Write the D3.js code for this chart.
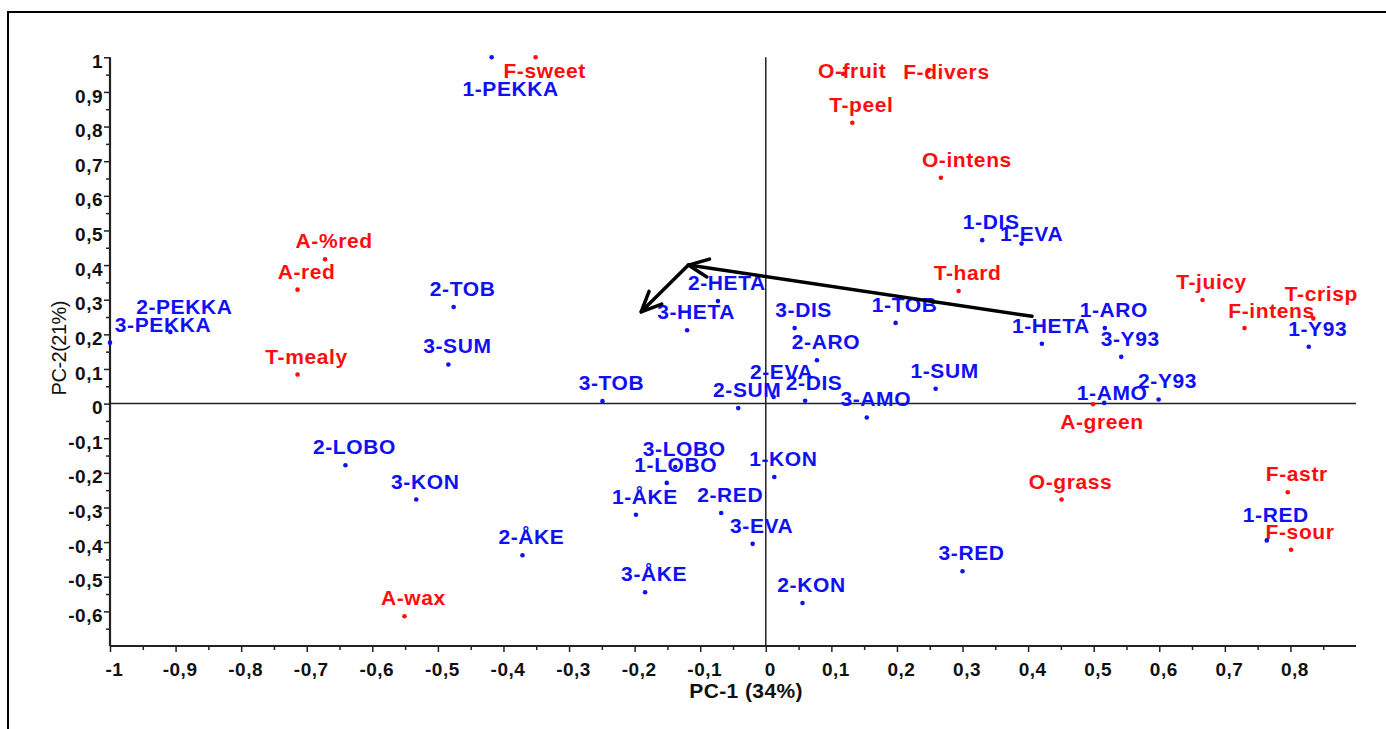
<!DOCTYPE html>
<html>
<head>
<meta charset="utf-8">
<script src="https://d3js.org/d3.v7.min.js"></script>
<style>
  body { margin: 0; background: #fff; }
  svg { display: block; font-family: "Liberation Sans", Arial, sans-serif; }
</style>
</head>
<body>
<svg width="1386" height="729"></svg>
<script>
// PCA bi-plot: samples (blue) and sensory attributes (red)

var sampleNames = ["1-PEKKA","2-PEKKA","3-PEKKA","2-TOB","3-SUM","2-HETA","3-HETA","3-DIS","2-ARO","1-TOB",
  "2-EVA","2-SUM","2-DIS","3-TOB","3-AMO","1-DIS","1-EVA","1-HETA","1-ARO","3-Y93",
  "1-Y93","1-SUM","2-Y93","1-AMO","2-LOBO","3-KON","1-KON","1-LOBO","3-LOBO","1-ÅKE",
  "2-RED","3-EVA","2-ÅKE","3-ÅKE","2-KON","3-RED","1-RED"];
var samplePC1 = [-0.418,-0.908,-1.0,-0.476,-0.484,-0.073,-0.120,0.044,0.078,0.198,
  0.012,-0.042,0.060,-0.249,0.154,0.330,0.390,0.421,0.517,0.542,
  0.828,0.259,0.599,0.516,-0.641,-0.533,0.013,-0.151,-0.138,-0.198,
  -0.068,-0.020,-0.371,-0.184,0.056,0.300,0.764];
var samplePC2 = [1.0,0.207,0.176,0.279,0.113,0.296,0.212,0.218,0.125,0.233,
  0.019,-0.013,0.008,0.007,-0.040,0.472,0.462,0.173,0.218,0.135,
  0.164,0.043,0.012,0.002,-0.178,-0.277,-0.212,-0.229,-0.183,-0.321,
  -0.316,-0.405,-0.438,-0.545,-0.576,-0.484,-0.395];

var attrNames = ["F-sweet","O-fruit","F-divers","T-peel","O-intens","A-%red","A-red","T-mealy","T-hard",
  "T-juicy","F-intens","T-crisp","A-green","O-grass","F-astr","F-sour","A-wax"];
var attrPC1 = [-0.351,0.118,0.248,0.132,0.267,-0.672,-0.714,-0.714,0.294,
  0.666,0.730,0.835,0.499,0.451,0.796,0.801,-0.551];
var attrPC2 = [1.0,0.952,0.961,0.811,0.652,0.417,0.329,0.084,0.325,
  0.299,0.218,0.246,-0.002,-0.277,-0.256,-0.422,-0.614];

var xTicks = [-1,-0.9,-0.8,-0.7,-0.6,-0.5,-0.4,-0.3,-0.2,-0.1,0,0.1,0.2,0.3,0.4,0.5,0.6,0.7,0.8];
var yTicks = [1,0.9,0.8,0.7,0.6,0.5,0.4,0.3,0.2,0.1,0,-0.1,-0.2,-0.3,-0.4,-0.5,-0.6];

// hand-drawn arrow (in PC units)
var arrowA = [[0.406,0.252],[-0.118,0.400]];
var arrowB = [[-0.118,0.400],[-0.190,0.265]];

// label nudges where the plot program moved labels away from the default spot
var labelShift = {
  "1-PEKKA":[19,39], "F-sweet":[9,21], "O-fruit":[9,4], "F-divers":[18,8],
  "3-PEKKA":[53,-11], "2-PEKKA":[14,-18], "2-EVA":[8,-18], "1-EVA":[10,-3],
  "F-intens":[27,-10], "O-intens":[26,-11], "T-crisp":[8,-17], "1-RED":[9,-18],
  "1-AMO":[8,-3], "A-green":[9,25]
};

var svg = d3.select("svg");

var x = d3.scaleLinear().domain([-1, 0.9]).range([110, 1356]);
var y = d3.scaleLinear().domain([-0.7, 1.0]).range([646, 57.3]);

var loc = d3.formatLocale({decimal: ",", thousands: ".", grouping: [3], currency: ["", ""], minus: "-"});
var fmt = loc.format(".1~f");

// outer frame
svg.append("path")
    .attr("d", "M8,729V12H1386")
    .attr("fill", "none")
    .attr("stroke", "#000")
    .attr("stroke-width", 2);

// zero lines
svg.append("line")
    .attr("x1", x(0)).attr("x2", x(0))
    .attr("y1", y(1)).attr("y2", y(-0.7))
    .attr("stroke", "#222").attr("stroke-width", 1.5);
svg.append("line")
    .attr("x1", x(-1)).attr("x2", x(0.9))
    .attr("y1", y(0)).attr("y2", y(0))
    .attr("stroke", "#222").attr("stroke-width", 1.5);

// minor ticks
var xMinor = d3.range(-0.95, 0.9, 0.1);
var yMinor = d3.range(-0.65, 1.0, 0.1);

svg.append("g")
    .attr("transform", "translate(0," + y(-0.7) + ")")
    .call(d3.axisBottom(x).tickValues(xMinor).tickSize(4).tickFormat(""))
    .call(function(g) { g.select(".domain").remove(); })
    .selectAll("line").attr("stroke", "#222").attr("stroke-width", 1.5);

svg.append("g")
    .attr("transform", "translate(" + x(-1) + ",0)")
    .call(d3.axisLeft(y).tickValues(yMinor).tickSize(4).tickFormat(""))
    .call(function(g) { g.select(".domain").remove(); })
    .selectAll("line").attr("stroke", "#222").attr("stroke-width", 1.5);

// main axes
var xAxis = svg.append("g")
    .attr("transform", "translate(0," + y(-0.7) + ")")
    .call(d3.axisBottom(x).tickValues(xTicks).tickSize(6).tickPadding(10.5).tickFormat(fmt));
xAxis.select(".domain").attr("d", "M" + x(-1) + ",0H" + x(0.9)).attr("stroke", "#222").attr("stroke-width", 2.2);
xAxis.selectAll("line").attr("stroke", "#222").attr("stroke-width", 1.5);
xAxis.selectAll("text")
    .attr("dx", 4)
    .attr("fill", "#111")
    .style("font-size", "19px").style("font-weight", "bold").style("letter-spacing", "0.5px")
    .style("font-family", "'Liberation Sans', Arial, sans-serif");

var yAxis = svg.append("g")
    .attr("transform", "translate(" + x(-1) + ",0)")
    .call(d3.axisLeft(y).tickValues(yTicks).tickSize(6).tickPadding(1).tickFormat(fmt));
yAxis.select(".domain").attr("d", "M0," + y(1) + "V" + y(-0.7)).attr("stroke", "#222").attr("stroke-width", 2.2);
yAxis.selectAll("line").attr("stroke", "#222").attr("stroke-width", 1.5);
yAxis.selectAll("text")
    .attr("dy", "0.53em")
    .attr("fill", "#111")
    .style("font-size", "19px").style("font-weight", "bold").style("letter-spacing", "0.5px")
    .style("font-family", "'Liberation Sans', Arial, sans-serif");

// axis titles
svg.append("text")
    .attr("x", x(-0.03)).attr("y", 698)
    .attr("text-anchor", "middle")
    .attr("fill", "#111")
    .style("font-size", "21px").style("font-weight", "bold").style("letter-spacing", "0.4px")
    .text("PC-1 (34%)");

svg.append("text")
    .attr("transform", "translate(66," + y(0.16) + ") rotate(-90)")
    .attr("text-anchor", "middle")
    .attr("fill", "#111")
    .style("font-size", "20px").style("letter-spacing", "-0.5px")
    .text("PC-2(21%)");

// points + labels
function drawSet(names, pc1, pc2, color) {
  var data = names.map(function(n, i) { return {name: n, x: pc1[i], y: pc2[i]}; });
  var g = svg.append("g");
  g.selectAll("circle")
      .data(data)
    .enter().append("circle")
      .attr("cx", function(d) { return x(d.x); })
      .attr("cy", function(d) { return y(d.y); })
      .attr("r", 2.3)
      .attr("fill", color);
  g.selectAll("text")
      .data(data)
    .enter().append("text")
      .attr("x", function(d) { var s = labelShift[d.name] || [9, -11]; return x(d.x) + s[0]; })
      .attr("y", function(d) { var s = labelShift[d.name] || [9, -11]; return y(d.y) + s[1]; })
      .attr("text-anchor", "middle")
      .attr("fill", color)
      .style("font-size", "21px").style("font-weight", "bold").style("letter-spacing", "0.6px")
      .text(function(d) { return d.name; });
}

drawSet(attrNames, attrPC1, attrPC2, "#ff0d0d");
drawSet(sampleNames, samplePC1, samplePC2, "#1010f5");

// arrow
var defs = svg.append("defs");
defs.append("marker")
    .attr("id", "chev")
    .attr("markerUnits", "userSpaceOnUse")
    .attr("viewBox", "-24 -12 28 24")
    .attr("refX", 0).attr("refY", 0)
    .attr("markerWidth", 28).attr("markerHeight", 24)
    .attr("orient", "auto")
  .append("path")
    .attr("d", "M-20,-9L0,0L-20,9")
    .attr("fill", "none")
    .attr("stroke", "#000")
    .attr("stroke-width", 3.5)
    .attr("stroke-linecap", "round")
    .attr("stroke-linejoin", "round");

var arrowLine = d3.line()
    .x(function(d) { return x(d[0]); })
    .y(function(d) { return y(d[1]); });

[arrowA, arrowB].forEach(function(a) {
  svg.append("path")
      .datum(a)
      .attr("fill", "none")
      .attr("stroke", "#000")
      .attr("stroke-width", 3.5)
      .attr("stroke-linecap", "round")
      .attr("marker-end", "url(#chev)")
      .attr("d", arrowLine);
});
</script>
</body>
</html>
